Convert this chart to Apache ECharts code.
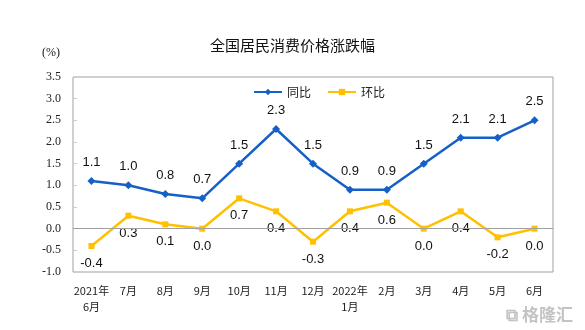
<!DOCTYPE html>
<html><head><meta charset="utf-8">
<script src="https://cdn.jsdelivr.net/npm/echarts@6/dist/echarts.min.js"></script>
<style>html,body{margin:0;padding:0;background:#fff}#c{width:585px;height:330px}</style>
</head><body><div id="c"></div>
<script>
const categories = ['2021年\n6月','7月','8月','9月','10月','11月','12月','2022年\n1月','2月','3月','4月','5月','6月'];
const yoy = [1.1, 1.0, 0.8, 0.7, 1.5, 2.3, 1.5, 0.9, 0.9, 1.5, 2.1, 2.1, 2.5];
const mom = [-0.4, 0.3, 0.1, 0.0, 0.7, 0.4, -0.3, 0.4, 0.6, 0.0, 0.4, -0.2, 0.0];
const yTicks = [-1.0, -0.5, 0.0, 0.5, 1.0, 1.5, 2.0, 2.5, 3.0, 3.5];

const chart = echarts.init(document.getElementById('c'));
chart.setOption({
  animation: false,
  backgroundColor: '#fff',
  title: { text: '全国居民消费价格涨跌幅', left: 'center', top: 33,
    textStyle: { fontFamily: 'Noto Sans CJK SC', fontSize: 15, fontWeight: 'normal', color: '#111' } },
  legend: { top: 81, left: 248, itemGap: 16, itemWidth: 28, itemHeight: 8,
    textStyle: { fontFamily: 'Noto Sans CJK SC', fontSize: 12, color: '#222' },
    data: ['同比','环比'] },
  graphic: [
    { type: 'text', left: 42, top: 47, style: { text: '(%)', font: '12px "Liberation Serif"', fill: '#222' } },
    { type: 'text', right: 12, top: 306, style: { text: '⧉ 格隆汇', font: 'bold 17px "Noto Sans CJK SC"', fill: 'rgba(170,170,170,0.7)' } }
  ],
  grid: { left: 73, right: 32, top: 77, bottom: 58, show: true, borderColor: '#a0a0a0', borderWidth: 1 },
  xAxis: { type: 'category', data: categories, boundaryGap: true,
    axisLine: { show: false }, axisTick: { show: false },
    axisLabel: { interval: 0, margin: 11, fontFamily: 'Noto Sans CJK SC', fontSize: 11, color: '#222', lineHeight: 16 } },
  yAxis: { type: 'value', min: -1.0, max: 3.5, interval: 0.5,
    splitLine: { show: false },
    axisLine: { show: false },
    axisTick: { show: true, inside: true, length: 4, lineStyle: { color: '#ccc' } },
    axisLabel: { margin: 12, fontFamily: 'Liberation Serif', fontSize: 12, color: '#222',
      formatter: v => v.toFixed(1) } },
  series: [
    { name: '同比', type: 'line', data: yoy, symbol: 'diamond', symbolSize: 8,
      itemStyle: { color: '#1560C8' }, lineStyle: { color: '#1560C8', width: 2.5 },
      label: { show: true, position: 'top', distance: 8, fontFamily: 'Liberation Sans', fontSize: 13, color: '#111',
        formatter: p => p.value.toFixed(1) },
      markLine: { silent: true, symbol: 'none', label: { show: false },
        lineStyle: { color: '#a0a0a0', type: 'solid', width: 1 }, data: [{ yAxis: 0 }] } },
    { name: '环比', type: 'line', data: mom, symbol: 'rect', symbolSize: 6,
      itemStyle: { color: '#FFC000' }, lineStyle: { color: '#FFC000', width: 2.5 },
      label: { show: true, position: 'bottom', distance: 8, fontFamily: 'Liberation Sans', fontSize: 13, color: '#111',
        formatter: p => p.value.toFixed(1) } }
  ]
});
</script></body></html>
